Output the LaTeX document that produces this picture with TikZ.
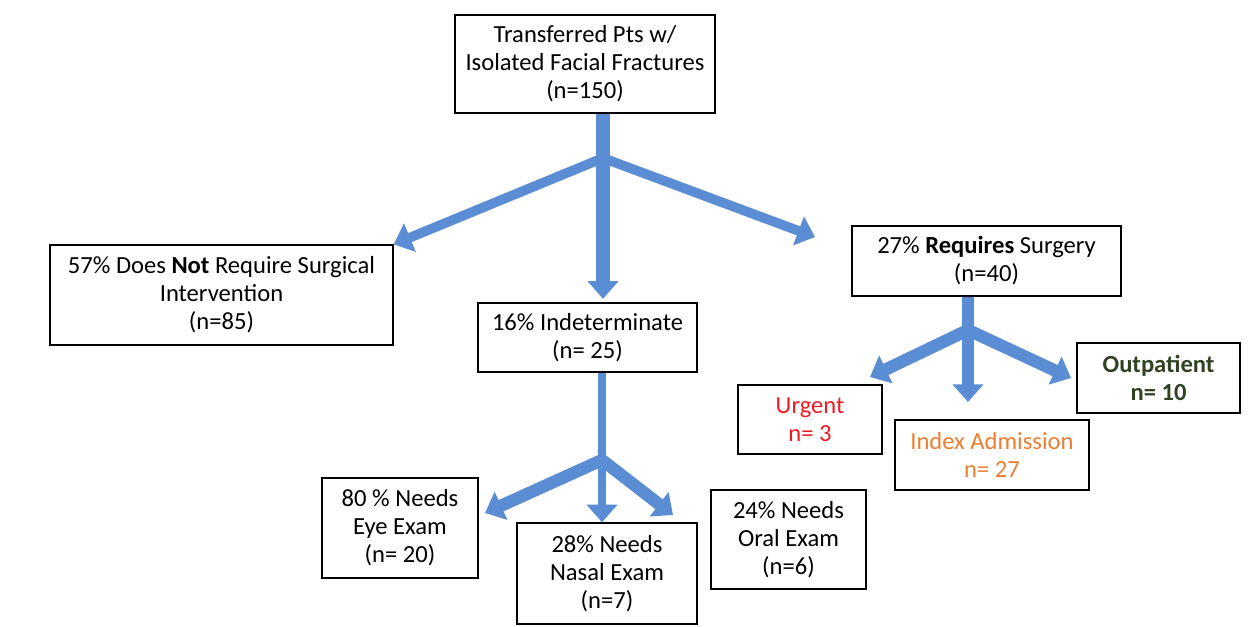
\documentclass[tikz,border=0pt]{standalone}
\usepackage{fontspec}
\setmainfont{Carlito}
\usetikzlibrary{arrows.meta}
\definecolor{flowblue}{RGB}{91,141,212}
\definecolor{urgred}{RGB}{236,28,36}
\definecolor{idxorange}{RGB}{237,125,49}
\definecolor{outgreen}{RGB}{48,66,34}
\tikzset{%
  box/.style  = {draw, thick, rectangle, align = center, inner sep = 0pt,
    font = \fontsize{14}{16}\selectfont}, % Box
  flow/.style = {draw = flowblue, line width = #1,
    -{Triangle[length = 10pt, width = 17pt]}}, % Arrow
  flow/.default = 7pt
}

\begin{document}
\begin{tikzpicture}[x = 0.02cm, y = -0.02cm]
\useasboundingbox (0,0) rectangle (1254,626);
%top blocks
\draw
	(585,64) node [box, minimum width = 5.2cm, minimum height = 1.96cm] (top)
		{Transferred Pts w/\\Isolated Facial Fractures\\(n=150)}
	(221.5,295) node [box, minimum width = 6.86cm, minimum height = 2cm] (nosurg)
		{57\% Does \textbf{Not} Require Surgical\\Intervention\\(n=85)}
	(587.5,337.5) node [box, minimum width = 4.38cm, minimum height = 1.38cm] (indet)
		{16\% Indeterminate\\(n= 25)}
	(986.5,261) node [box, minimum width = 5.38cm, minimum height = 1.4cm] (surg)
		{27\% \textbf{Requires} Surgery\\(n=40)};
%surgery blocks
\draw
	(810,419.5) node [box, minimum width = 2.88cm, minimum height = 1.38cm, text = urgred] (urgent)
		{Urgent\\n= 3}
	(992,455) node [box, minimum width = 3.88cm, minimum height = 1.4cm, text = idxorange] (index)
		{Index Admission\\n= 27}
	(1158.5,378) node [box, minimum width = 3.26cm, minimum height = 1.4cm, text = outgreen] (outpt)
		{\textbf{Outpatient}\\\textbf{n= 10}};
%exam blocks
\draw
	(400,528) node [box, minimum width = 3.12cm, minimum height = 2cm] (eye)
		{80 \% Needs\\Eye Exam\\(n= 20)}
	(607,573.5) node [box, minimum width = 3.6cm, minimum height = 2.02cm] (nasal)
		{28\% Needs\\Nasal Exam\\(n=7)}
	(788.5,539.5) node [box, minimum width = 3.1cm, minimum height = 1.98cm] (oral)
		{24\% Needs\\Oral Exam\\(n=6)};
%junctions and arrow ends
\coordinate (jtop) at (603,158);
\coordinate (jsurg) at (968,330);
\coordinate (jindet) at (602,460);
\coordinate (surgtip) at (815,237);
\coordinate (urgtip) at (870,377);
\coordinate (idxtip) at (968,402);
\coordinate (eyetip) at (485,513);
\coordinate (oraltip) at (673,515);
%top arrows
\draw[flow = 8pt] (top.south -| jtop) -- ([yshift = 2pt]indet.north -| jtop);
\draw[flow = 5.5pt] (jtop) -- (nosurg.north east);
\draw[flow = 5.5pt] (jtop) -- (surgtip);
%surgery arrows
\draw[flow] (surg.south -| jsurg) -- (idxtip);
\draw[flow] (jsurg) -- (urgtip);
\draw[flow] (jsurg) -- ([xshift = -3pt]outpt.west);
%exam arrows
\draw[flow = 4.5pt] (indet.south -| jindet) -- (nasal.north -| jindet);
\draw[flow] (jindet) -- (eyetip);
\draw[flow] (jindet) -- (oraltip);
\end{tikzpicture}
\end{document}
